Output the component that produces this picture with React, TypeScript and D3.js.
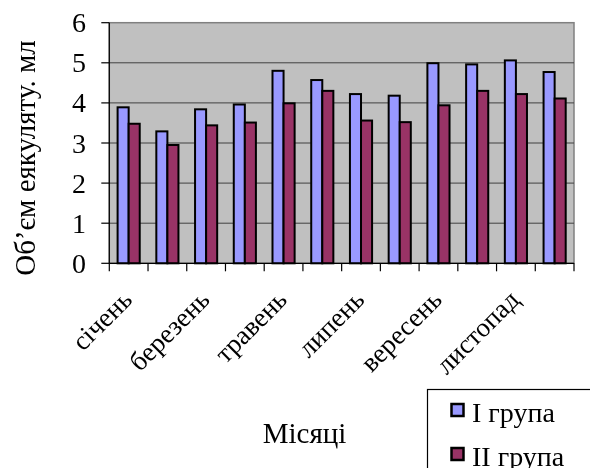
import React from "react";
import * as d3 from "d3";

const months = ["січень", "лютий", "березень", "квітень", "травень", "червень", "липень", "серпень", "вересень", "жовтень", "листопад", "грудень"];
const group1 = [3.89, 3.29, 3.84, 3.96, 4.8, 4.57, 4.22, 4.18, 4.99, 4.96, 5.06, 4.77];
const group2 = [3.48, 2.95, 3.44, 3.51, 3.99, 4.3, 3.56, 3.52, 3.94, 4.3, 4.22, 4.11];
const seriesNames = ["I група", "II група"];
const colors = ["#9999ff", "#993366"];
const yTicks = [0, 1, 2, 3, 4, 5, 6];

const FONT = "'Times New Roman', 'Liberation Serif', 'DejaVu Serif', serif";

export default function App() {
  const W = 590, H = 468;
  const left = 109.3, right = 574, top = 22.7, bottom = 263.3;
  const x = d3.scaleBand<string>().domain(months).range([left, right]).paddingInner(0.4286).paddingOuter(0.2143);
  const y = d3.scaleLinear().domain([0, 6]).range([bottom, top]);
  const inner = d3.scaleBand<number>().domain([0, 1]).range([0, x.bandwidth()]);
  const step = (right - left) / months.length;
  const series = [group1, group2];
  return (
    <div style={{ position: "fixed", left: 0, top: 0, width: W, height: H, fontFamily: FONT, overflow: "hidden" }}>
      <svg width={W} height={H} viewBox={`0 0 ${W} ${H}`} style={{ display: "block", fontFamily: FONT }}>
        <rect x={left} y={top} width={right - left} height={bottom - top} fill="#c0c0c0" stroke="#808080" strokeWidth={1.5} />
        {yTicks.slice(1, -1).map((t) => (
          <line key={t} x1={left} x2={right} y1={y(t)} y2={y(t)} stroke="#404040" strokeWidth={1} />
        ))}
        {series.map((vals, si) =>
          vals.map((v, i) => (
            <rect key={si + "-" + i} x={(x(months[i]) as number) + (inner(si) as number)} y={y(v)} width={inner.bandwidth()} height={bottom - y(v)} fill={colors[si]} stroke="#000" strokeWidth={2} />
          ))
        )}
        <line x1={left} x2={left} y1={top} y2={bottom} stroke="#000" strokeWidth={1.2} />
        <line x1={left} x2={right} y1={bottom} y2={bottom} stroke="#000" strokeWidth={1.2} />
        {yTicks.map((t) => (
          <g key={t}>
            <line x1={left - 8} x2={left} y1={y(t)} y2={y(t)} stroke="#000" strokeWidth={1.2} />
            <text x={86} y={y(t) + 9.5} textAnchor="end" fontFamily={FONT} fontSize={28}>{t}</text>
          </g>
        ))}
        {d3.range(months.length + 1).map((i) => (
          <line key={i} x1={left + i * step} x2={left + i * step} y1={bottom} y2={bottom + 8} stroke="#000" strokeWidth={1.2} />
        ))}
        {months.map((m, i) => {
          if (i % 2 !== 0) return null;
          const ax = (x(m) as number) + x.bandwidth() / 2 + 5;
          const ay = bottom + 38;
          return (
            <g key={m} transform={`translate(${ax},${ay}) rotate(-45)`}>
              <text x={0} y={0} textAnchor="end" fontFamily={FONT} fontSize={27}>{m}</text>
            </g>
          );
        })}
        <g transform="translate(35,158) rotate(-90)">
          <text x={0} y={0} textAnchor="middle" fontFamily={FONT} fontSize={29}>Об’єм еякуляту. мл</text>
        </g>
        <text x={304.5} y={443} textAnchor="middle" fontFamily={FONT} fontSize={29}>Місяці</text>
        <rect x={427.5} y={389.5} width={170} height={90} fill="#fff" stroke="#000" strokeWidth={1.2} />
        {seriesNames.map((n, i) => (
          <g key={n}>
            <rect x={451.5} y={404} width={12} height={12} transform={`translate(0,${i * 44})`} fill={colors[i]} stroke="#000" strokeWidth={2.5} />
            <text x={472} y={421.7 + i * 44} fontFamily={FONT} fontSize={28}>{n}</text>
          </g>
        ))}
      </svg>
    </div>
  );
}
